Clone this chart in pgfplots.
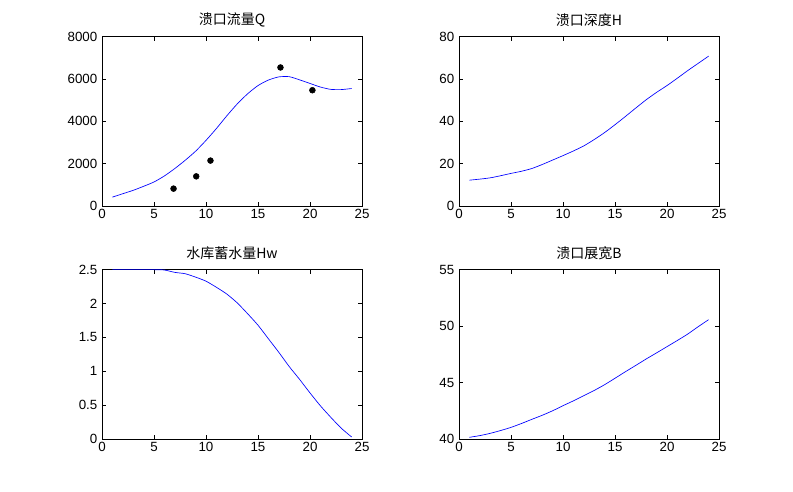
\documentclass[border=0pt]{standalone}
\usepackage{pgfplots}
\pgfplotsset{compat=1.18}
\usepackage{fontspec}
\setmainfont{Liberation Sans}
\newfontfamily\cjk{Noto Sans CJK SC}
\begin{document}
\begin{tikzpicture}
\pgfplotsset{
  mat/.style={
    scale only axis, width=195pt, height=127pt,
    anchor=south west,
    xmin=0, xmax=25, xtick={0,5,...,25},
    tick align=inside, xtick pos=both, ytick pos=both,
    major tick length=3pt,
    tick style={black, line width=0.4pt},
    axis line style={line width=0.5pt},
    /pgf/number format/assume math mode=true,
    tick label style={font=\fontsize{10}{12}\selectfont},
    title style={font=\fontsize{10.5}{12}\selectfont, yshift=-2pt},
    xticklabel style={yshift=1pt},
    scaled ticks=false,
    /pgf/number format/1000 sep={},
  },
  curve/.style={blue, line width=0.5pt, no marks, smooth, tension=0.4},
}
\path[fill=white] (0,0) rectangle (594.75pt,369pt);
% Top-left: Q
\begin{axis}[mat, at={(76.5pt,214.5pt)}, ymin=0, ymax=8000, ytick={0,2000,...,8000},
  title={\cjk 溃口流量Q}]
\addplot[curve] coordinates {(1,420) (2,580) (3,740) (4,930) (5,1135) (6,1420) (7,1770) (8,2160) (9,2590) (10,3100) (11,3660) (12,4260) (13,4820) (14,5300) (15,5690) (16,5950) (17,6100) (18,6110) (19,5960) (20,5790) (21,5620) (22,5510) (23,5500) (24,5550)};
\addplot[only marks, mark=*, mark size=2.2pt, black] coordinates {(6.88,820) (9.06,1400) (10.43,2145) (17.16,6545) (20.23,5470)};
\end{axis}
% Top-right: H
\begin{axis}[mat, at={(344.25pt,214.5pt)}, ymin=0, ymax=80, ytick={0,20,...,80},
  title={\cjk 溃口深度H}]
\addplot[curve] coordinates {(1,12.2) (2,12.7) (3,13.3) (4,14.3) (5,15.4) (6,16.4) (7,17.7) (8,19.6) (9,21.7) (10,23.8) (11,26.0) (12,28.4) (13,31.4) (14,34.7) (15,38.4) (16,42.3) (17,46.3) (18,50.2) (19,53.7) (20,56.9) (21,60.4) (22,64.0) (23,67.4) (24,70.8)};
\end{axis}
% Bottom-left: Hw
\begin{axis}[mat, at={(76.5pt,39.75pt)}, ymin=0, ymax=2.5, ytick={0,0.5,...,2.5},
  title={\cjk 水库蓄水量Hw}, clip=false]
\addplot[curve] coordinates {(1,2.5) (2,2.5) (3,2.5) (4,2.5) (5,2.5) (6,2.495) (7,2.46) (8,2.44) (9,2.39) (10,2.33) (11,2.24) (12,2.14) (13,2.01) (14,1.85) (15,1.68) (16,1.48) (17,1.28) (18,1.07) (19,0.88) (20,0.68) (21,0.49) (22,0.32) (23,0.16) (24,0.03)};
\end{axis}
% Bottom-right: B
\begin{axis}[mat, at={(344.25pt,39.75pt)}, ymin=40, ymax=55, ytick={40,45,...,55},
  title={\cjk 溃口展宽B}]
\addplot[curve] coordinates {(1,40.15) (2,40.3) (3,40.5) (4,40.75) (5,41.03) (6,41.37) (7,41.74) (8,42.1) (9,42.5) (10,42.95) (11,43.38) (12,43.84) (13,44.3) (14,44.81) (15,45.38) (16,45.96) (17,46.52) (18,47.09) (19,47.63) (20,48.18) (21,48.73) (22,49.3) (23,49.95) (24,50.57)};
\end{axis}
\end{tikzpicture}
\end{document}
